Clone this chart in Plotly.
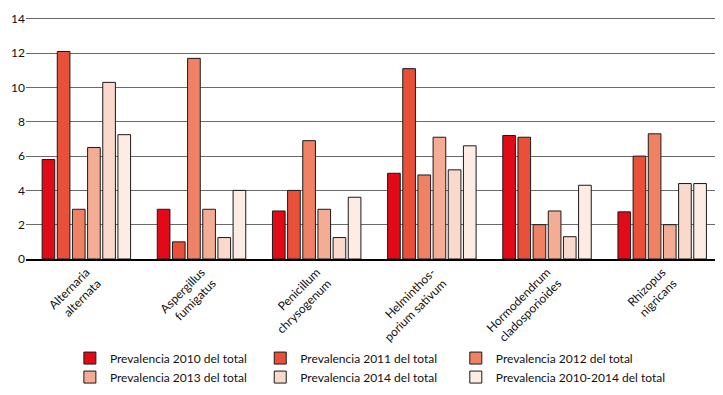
import plotly.graph_objects as go

categories = ["Alternaria<br>alternata", "Aspergillus<br>fumigatus", "Penicillum<br>chrysogenum",
              "Helminthos-<br>porium sativum", "Hormodendrum<br>cladosporioides", "Rhizopus<br>nigricans"]

series_names = ["Prevalencia 2010 del total", "Prevalencia 2011 del total", "Prevalencia 2012 del total",
                "Prevalencia 2013 del total", "Prevalencia 2014 del total", "Prevalencia 2010-2014 del total"]

prev_2010 = [5.8, 2.9, 2.8, 5.0, 7.2, 2.75]
prev_2011 = [12.1, 1.0, 4.0, 11.1, 7.1, 6.0]
prev_2012 = [2.9, 11.7, 6.9, 4.9, 2.0, 7.3]
prev_2013 = [6.5, 2.9, 2.9, 7.1, 2.8, 2.0]
prev_2014 = [10.3, 1.25, 1.25, 5.2, 1.3, 4.4]
prev_total = [7.25, 4.0, 3.6, 6.6, 4.3, 4.4]

colors = ["#e20a17", "#e8503a", "#ef8264", "#f4ad94", "#f9d9cb", "#fdece4"]

y_ticks = [0, 2, 4, 6, 8, 10, 12, 14]

all_series = [prev_2010, prev_2011, prev_2012, prev_2013, prev_2014, prev_total]
# legend column for each series (3 columns x 2 rows)
legend_ids = ["legend", "legend2", "legend3", "legend", "legend2", "legend3"]

FONT = "Lato"
TXT = "#111111"

fig = go.Figure()
for name, vals, col, lg in zip(series_names, all_series, colors, legend_ids):
    fig.add_trace(go.Bar(
        x=list(range(len(categories))), y=vals, name=name, legend=lg,
        marker=dict(color=col, line=dict(color="#1a1a1a", width=1)),
    ))

leg_common = dict(orientation="v", yanchor="top", y=-0.348, xanchor="left",
                  font=dict(family=FONT, size=12, color=TXT), traceorder="normal",
                  bgcolor="rgba(0,0,0,0)")

fig.update_layout(
    width=715, height=387,
    margin=dict(l=16, r=6, t=3, b=134),
    paper_bgcolor="white", plot_bgcolor="white",
    barmode="group", bargap=0.21, bargroupgap=0.165,
    font=dict(family=FONT, size=12, color=TXT),
    showlegend=True,
    legend=dict(x=0.0635, **leg_common),
    legend2=dict(x=0.339, **leg_common),
    legend3=dict(x=0.622, **leg_common),
    xaxis=dict(
        tickmode="array", tickvals=list(range(len(categories))), ticktext=categories,
        range=[-0.524, 5.476], tickangle=-45, showgrid=False, ticks="",
        showline=True, linecolor="#000", linewidth=1.5,
        tickfont=dict(family=FONT, size=12, color=TXT),
    ),
    yaxis=dict(
        range=[0, 14.17], tickvals=y_ticks, showgrid=True, gridcolor="#6a6a6a", gridwidth=1,
        zeroline=False, showline=False, ticks="", ticklabeloverflow="allow",
        tickfont=dict(family=FONT, size=12, color=TXT),
    ),
)

fig.write_html("out.html")
